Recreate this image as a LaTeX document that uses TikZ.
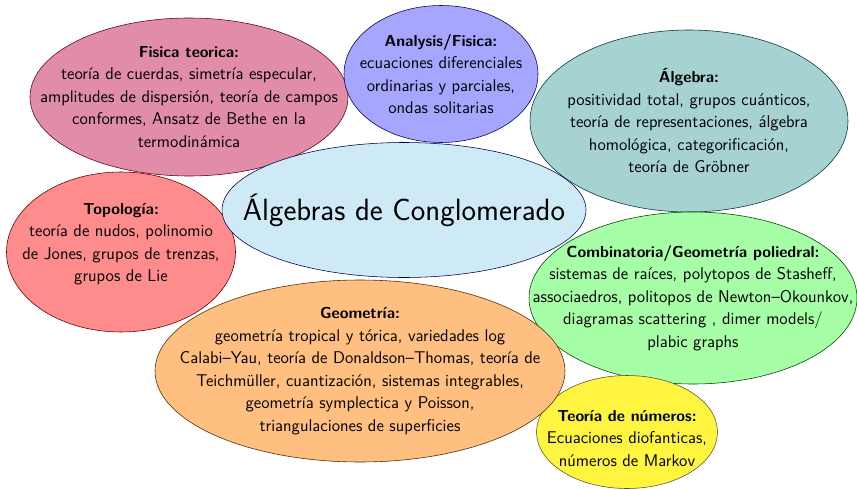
\documentclass[tikz,border=0pt]{standalone}
\usepackage{fontspec}
\usepackage{tikz}
\usetikzlibrary{shapes.geometric}

\definecolor{centrofill}{RGB}{206,234,246}
\definecolor{fisicafill}{RGB}{225,141,168}

\newcommand{\areatitle}[1]{{\fontsize{11.3}{16}\selectfont\bfseries #1}}

\tikzset{
  area/.style={ellipse, inner sep=0pt},
  areatext/.style={align=center, inner sep=0pt,
    font=\sffamily\fontsize{12.1}{16}\selectfont},
}

\begin{document}
\begin{tikzpicture}
    \useasboundingbox (0,0) rectangle (21.425,12.225);

    % Upper areas
    \node[area, fill=fisicafill, draw=purple!45!black,
      minimum width=7.95cm, minimum height=3.95cm] (fisica) at (4.725,9.8) {};
    \node[areatext] (fisica-t) at (fisica)
      {\areatitle{Fisica teorica:}\\
       teoría de cuerdas, simetría especular,\\
       amplitudes de dispersión, teoría de campos\\
       conformes, Ansatz de Bethe en la\\
       termodinámica};

    \node[area, fill=blue!35, draw=blue!30!black,
      minimum width=4.85cm, minimum height=3.425cm] (analysis) at (11.025,10.375) {};
    \node[areatext] (analysis-t) at (analysis)
      {\areatitle{Analysis/Fisica:}\\
       ecuaciones diferenciales\\
       ordinarias y parciales,\\
       ondas solitarias};

    \node[area, fill=teal!35, draw=teal!40!black,
      minimum width=7.95cm, minimum height=4.55cm] (algebra) at (17.225,9.2) {};
    \node[areatext] (algebra-t) at (algebra)
      {\areatitle{Álgebra:}\\
       positividad total, grupos cuánticos,\\
       teoría de representaciones, álgebra\\
       homológica, categorificación,\\
       teoría de Gröbner};

    \node[area, fill=red!45, draw=red!35!black,
      minimum width=5.725cm, minimum height=4cm] (topologia) at (3.025,5.925) {};
    \node[areatext] (topologia-t) at ([yshift=0.19cm]topologia)
      {\areatitle{Topología:}\\
       teoría de nudos, polinomio\\
       de Jones, grupos de trenzas,\\
       grupos de Lie};

    % Center
    \node[area, fill=centrofill, draw=black!70!blue,
      minimum width=9.1cm, minimum height=3.375cm] (cluster) at (10.1,6.975) {};
    \node[inner sep=0pt, font=\sffamily\fontsize{21.9}{26}\selectfont]
      (cluster-t) at (cluster) {Álgebras de Conglomerado};

    % Lower areas
    \node[area, fill=green!35, draw=green!25!black,
      minimum width=8.2cm, minimum height=4.3cm] (combinatoria) at (17.325,4.775) {};
    \node[areatext] (combinatoria-t) at (combinatoria)
      {\areatitle{Combinatoria/Geometría poliedral:}\\
       sistemas de raíces, polytopos de Stasheff,\\
       associaedros, politopos de Newton–Okounkov,\\
       diagramas scattering , dimer models/\\
       plabic graphs};

    \node[area, fill=yellow!75, draw=olive!50!black,
      minimum width=4.525cm, minimum height=2.825cm] (numeros) at (15.675,1.425) {};
    \node[areatext] (numeros-t) at ([yshift=-0.16cm]numeros)
      {\areatitle{Teoría de números:}\\
       Ecuaciones diofanticas,\\
       números de Markov};

    \node[area, fill=orange!50, draw=orange!30!black,
      minimum width=10.25cm, minimum height=4.55cm] (geometria) at (9.0,2.95) {};
    \node[areatext] (geometria-t) at (geometria)
      {\areatitle{Geometría:}\\
       geometría tropical y tórica, variedades log\\
       Calabi–Yau, teoría de Donaldson–Thomas, teoría de\\
       Teichmüller, cuantización, sistemas integrables,\\
       geometría symplectica y Poisson,\\
       triangulaciones de superficies};
\end{tikzpicture}
\end{document}
